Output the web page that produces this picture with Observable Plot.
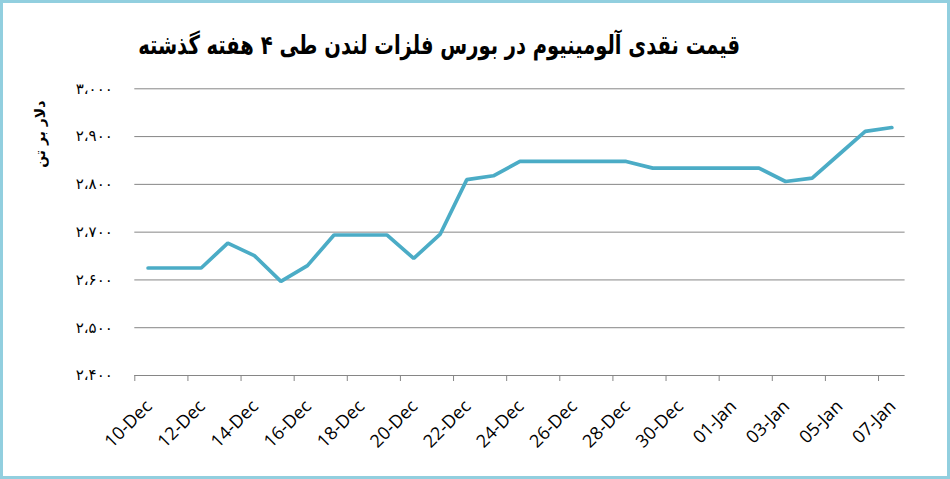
<!DOCTYPE html>
<html><head><meta charset="utf-8">
<script src="https://cdn.jsdelivr.net/npm/d3@7"></script>
<script src="https://cdn.jsdelivr.net/npm/@observablehq/plot@0.6"></script>
<style>
html,body{margin:0;padding:0;background:#fff;}
#frame{position:relative;width:950px;height:479px;box-sizing:border-box;border:3px solid #92cfdf;background:#fff;overflow:hidden;}
#title{position:absolute;left:0;width:872px;top:26px;text-align:center;font-family:"DejaVu Sans";font-weight:bold;font-size:26px;line-height:32px;color:#000;}
#title span{white-space:nowrap;display:inline-block;direction:rtl;transform-origin:50% 50%;}
#chart{position:absolute;left:0;top:66px;}
.yt text{letter-spacing:8px;}
</style></head><body>
<div id="frame">
  <div id="title"><span id="tt">قیمت نقدی آلومینیوم در بورس فلزات لندن طی ۴ هفته گذشته</span></div>
  <div id="chart"></div>
</div>
<script>
// ---- data ----
const dates = ["2018-12-10","2018-12-11","2018-12-12","2018-12-13","2018-12-14","2018-12-15","2018-12-16","2018-12-17","2018-12-18","2018-12-19","2018-12-20","2018-12-21","2018-12-22","2018-12-23","2018-12-24","2018-12-25","2018-12-26","2018-12-27","2018-12-28","2018-12-29","2018-12-30","2018-12-31","2019-01-01","2019-01-02","2019-01-03","2019-01-04","2019-01-05","2019-01-06","2019-01-07"];
const prices = [2625,2625,2625,2677,2651,2597,2630,2694,2694,2694,2645,2696,2810,2818,2848,2848,2848,2848,2848,2834,2834,2834,2834,2834,2806,2813,2862,2911,2919];
const tickDates = ["2018-12-10","2018-12-12","2018-12-14","2018-12-16","2018-12-18","2018-12-20","2018-12-22","2018-12-24","2018-12-26","2018-12-28","2018-12-30","2019-01-01","2019-01-03","2019-01-05","2019-01-07"];
const yTicks = [2400,2500,2600,2700,2800,2900,3000];
const yLabel = "دلار بر تن";

// ---- helpers ----
const day = 864e5;
const mid = s => new Date(Date.parse(s) + day/2);
const faDigits = "۰۱۲۳۴۵۶۷۸۹";
const fa = v => d3.format(",")(v).replace(/\d/g, c => faDigits[+c]).replace(/,/g, "،");
const fmtDate = d3.utcFormat("%d-%b");

const data = dates.map((d,i) => ({x: mid(d), y: prices[i]}));
const tickData = tickDates.map(d => new Date(d));
const labelData = tickDates.map(d => mid(d));

// fit title width (condensed look)
const tt = document.getElementById("tt");
const w = tt.getBoundingClientRect().width;
tt.style.transform = "scaleX(" + (602 / w) + ")";

const chart = Plot.plot({
  width: 944,
  height: 407,
  marginTop: 19.3,
  marginBottom: 101,
  marginLeft: 131.3,
  marginRight: 42.4,
  style: {fontFamily: "Open Sans", background: "white", color: "#000"},
  x: {type: "utc", domain: [new Date("2018-12-10"), new Date("2019-01-08")]},
  y: {domain: [2400, 3000]},
  marks: [
    Plot.gridY(yTicks, {stroke: "#868686", strokeOpacity: 1, strokeWidth: 1}),
    Plot.axisY(yTicks, {tickSize: 0, tickPadding: 22, tickFormat: fa, fontSize: 15, fontFamily: "DejaVu Sans", label: null, className: "yt"}),
    Plot.axisX(tickData, {tickSize: 6, stroke: "#868686", tickFormat: () => "", label: null}),
    Plot.text(labelData, {x: d => d, text: d => fmtDate(d), frameAnchor: "bottom", dx: 5, dy: 32, rotate: -45, textAnchor: "end", lineAnchor: "bottom", fontSize: 18, fontFamily: "Open Sans", fill: "#000"}),
    Plot.text([yLabel], {text: d => d, frameAnchor: "top-left", dx: -100, dy: 79, rotate: -90, textAnchor: "start", fontSize: 14, fontWeight: "bold", fontFamily: "DejaVu Sans", fill: "#000"}),
    Plot.line(data, {x: "x", y: "y", stroke: "#4bacc6", strokeWidth: 3.7, strokeLinejoin: "miter", strokeLinecap: "round"})
  ]
});
document.getElementById("chart").appendChild(chart);
</script>
</body></html>
